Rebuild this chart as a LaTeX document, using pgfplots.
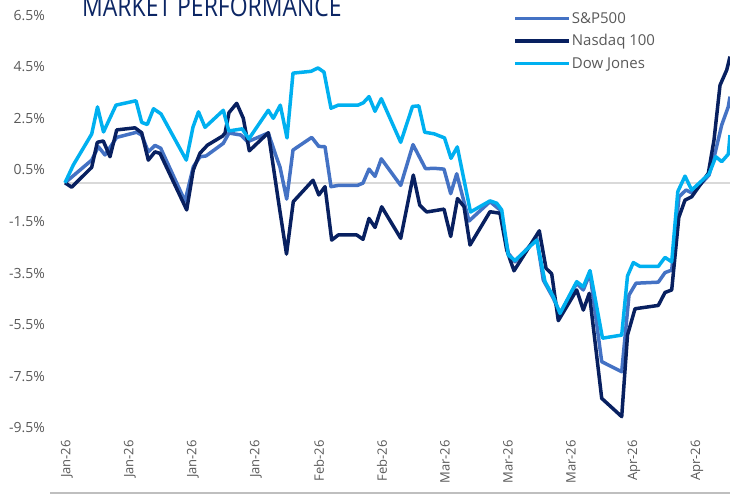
\documentclass[border=0pt]{standalone}
\usepackage{fontspec}
\setmainfont{Open Sans}
\newfontfamily\titlefont[FakeStretch=0.82]{Open Sans}
\usepackage{pgfplots}
\pgfplotsset{compat=1.18}
\definecolor{spc}{RGB}{68,114,196}
\definecolor{ndq}{RGB}{8,32,96}
\definecolor{dow}{RGB}{0,176,240}
\definecolor{txt}{RGB}{89,89,89}
\definecolor{ttl}{RGB}{12,38,100}
\definecolor{zl}{RGB}{217,217,217}
\definecolor{bl}{RGB}{191,191,191}
\pgfplotstableread{
x y
65 0
91.7 0.88
98.3 1.40
105 1.08
116.7 1.76
136.7 1.96
141.7 1.85
148.3 1.20
155 1.45
160.7 1.34
185 -0.71
193.3 0.62
200 1.01
206 1.04
223.3 1.53
229 1.93
241 1.85
247.5 1.59
268.3 1.93
276 1.04
280 0.61
286.7 -0.63
293 1.27
311.7 1.76
318.8 1.41
325 1.40
331 -0.15
338.3 -0.10
357.5 -0.10
363 -0.01
369 0.53
375 0.25
381.3 0.93
400.7 -0.10
413 1.48
425.5 0.55
435 0.56
444 0.53
450.7 -0.42
456.7 0.35
469 -1.48
490 -0.73
500 -1.05
508.3 -2.73
515 -3.06
536.7 -2.15
543.3 -3.77
553.3 -4.47
560 -5.06
576.7 -3.89
583.3 -4.15
590 -3.51
601.7 -6.93
621.7 -7.32
629 -4.35
636 -3.89
658.3 -3.85
665 -3.48
671.7 -3.38
679 -0.54
686 -0.28
692.5 -0.40
709 0.30
715 1.14
721.7 2.24
728.3 2.95
730 3.34
}\spx
\pgfplotstableread{
x y
65 0
71.7 -0.17
91.7 0.60
97.3 1.57
103.3 1.62
110 1.01
116.7 2.05
135 2.13
141.7 1.94
148.3 0.88
155 1.20
160 1.14
186.7 -1.05
193.3 0.50
200 1.15
207.5 1.46
222.5 1.81
225 1.92
229 2.72
236.7 3.08
243.3 2.50
249.3 1.24
268.3 1.94
279 -0.86
286.5 -2.76
293.3 -0.73
313 0.10
318.8 -0.47
325 -0.15
331.7 -2.22
338.3 -2.02
356.7 -2.02
363 -2.19
369 -1.38
375 -1.73
381.7 -0.93
400.7 -2.15
413.3 0.30
419.7 -0.86
426.7 -1.13
444 -1.02
450.7 -2.08
457.5 -0.61
464 -0.92
470 -2.41
490 -1.12
500 -1.18
506.7 -2.60
514 -3.41
539.3 -1.86
546 -3.31
551.7 -3.53
558.3 -5.34
576.7 -4.15
583.3 -4.93
589.3 -4.28
601.7 -8.35
621.7 -9.06
627.5 -5.90
635 -4.88
658.3 -4.75
665 -4.25
671.7 -4.15
678.8 -1.34
685 -0.67
691.7 -0.54
708.3 0.37
714 1.66
720 3.78
726.7 4.37
730 4.89
}\ndx
\pgfplotstableread{
x y
65 0
73.3 0.69
91.7 1.89
97.5 2.94
103.5 1.97
116 3.01
136 3.18
141.7 2.34
147.3 2.26
153.5 2.87
161 2.67
186.3 0.88
193 2.16
198.5 2.75
205 2.15
223.3 2.81
228.8 2.01
242.2 2.09
248.8 1.70
268.3 2.81
273.3 2.50
280.3 3.01
287 1.74
293 4.25
311 4.32
318 4.45
324 4.29
331 2.89
338.3 3.01
358 3.01
363.3 3.10
369 3.34
375 2.77
381.3 3.26
400.7 1.57
412.5 2.96
418.8 2.98
424.7 1.96
434 1.90
444.5 1.74
451 0.95
457.3 1.39
470.5 -1.13
490 -0.70
496.7 -0.79
501.7 -1.05
508.3 -2.80
515 -3.01
536.7 -2.22
545 -3.83
553.3 -4.41
560 -5.06
576.7 -3.83
583.3 -4.03
590 -3.40
602.5 -6.02
621.7 -5.90
627.5 -3.61
633.3 -3.09
640 -3.24
658.3 -3.24
665 -2.89
671.7 -3.06
677.8 -0.34
685 0.26
691.7 -0.28
709 0.34
715.8 1.01
721.7 0.82
728.3 1.11
730 1.85
}\dwx
\begin{document}
\begin{tikzpicture}[x=1pt,y=1pt]
\begin{axis}[
  at={(65pt,58pt)}, anchor=south west,
  scale only axis, width=665pt, height=440pt,
  xmin=65, xmax=730, ymin=-9.965, ymax=7.083,
  axis line style={draw=none},
  major tick length=0pt,
  clip=false,
  xtick={67,130,193,256,319,382,445,508,571,634,697},
  xticklabels={Jan-26,Jan-26,Jan-26,Jan-26,Feb-26,Feb-26,Mar-26,Mar-26,Mar-26,Apr-26,Apr-26},
  xticklabel style={rotate=90, anchor=east, inner sep=0pt, font=\fontsize{13}{13}\selectfont, text=txt},
  ytick={-9.5,-7.5,-5.5,-3.5,-1.5,0.5,2.5,4.5,6.5},
  yticklabels={-9.5\%,-7.5\%,-5.5\%,-3.5\%,-1.5\%,0.5\%,2.5\%,4.5\%,6.5\%},
  yticklabel style={anchor=east, inner sep=0pt, xshift=-20pt, font=\fontsize{14}{14}\selectfont, text=txt},
  extra y ticks={0}, extra y tick labels={},
  extra y tick style={grid=major, major grid style={draw=zl, line width=2pt}},
  legend style={at={(0.674,0.975)}, anchor=north west, draw=none, fill=none,
    font=\fontsize{15}{15}\selectfont, text=txt, row sep=8pt, inner sep=0pt,
    nodes={inner sep=1pt}},
  legend cell align=left,
  legend image code/.code={\draw[#1, line width=3.5pt] (0pt,0pt) -- (54pt,0pt);},
  every axis plot/.append style={line width=3.5pt, line join=round},
]
\addplot[spc] table {\spx};
\addlegendentry{S\&P500}
\addplot[ndq] table {\ndx};
\addlegendentry{Nasdaq 100}
\addplot[dow] table {\dwx};
\addlegendentry{Dow Jones}
\end{axis}
\node[anchor=base west, inner sep=0pt, text=ttl] at (82,481) {\titlefont\fontsize{28}{28}\selectfont MARKET PERFORMANCE};
\draw[bl, line width=1.5pt] (50,5) -- (730,5);
\pgfresetboundingbox
\useasboundingbox (0,0) rectangle (730,498);
\end{tikzpicture}
\end{document}
